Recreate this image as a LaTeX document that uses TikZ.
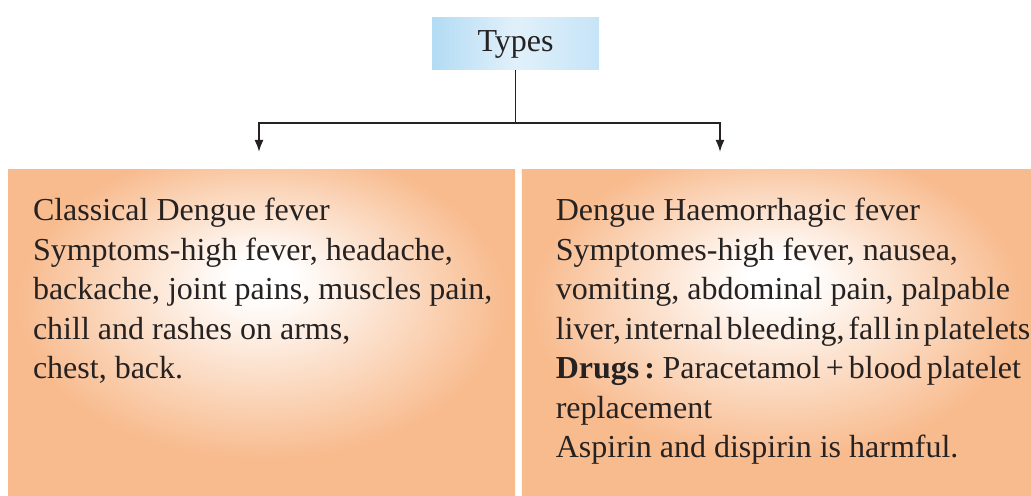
\documentclass[tikz,border=0pt]{standalone}
\usepackage{fontspec}
\setmainfont{Liberation Serif}
\usepackage{xcolor}
\usetikzlibrary{arrows.meta, positioning, calc}
\definecolor{typeblue}{HTML}{B3DBF4}
\definecolor{panelorange}{HTML}{F8BB8E}
\definecolor{inkgray}{HTML}{262222}
\pgfdeclareradialshading{panelglow}{\pgfpoint{0bp}{9bp}}{%
  color(0bp)=(white); color(3bp)=(white); color(24bp)=(panelorange); color(50bp)=(panelorange)}

\begin{document}
\begin{tikzpicture}[
   >={Latex[length=6pt, width=4.5pt]}, font=\fontsize{16}{19.75}\selectfont,
   typesbox/.style = {rectangle, left color=typeblue, right color=typeblue!75, middle color=typeblue!40,
                      minimum width=83.5pt, minimum height=26pt, inner sep=0pt, text=inkgray},
   panel/.style = {rectangle, shading=panelglow, minimum height=163pt, inner sep=0pt},
   paneltext/.style = {align=left, inner sep=0pt, text=inkgray, anchor=north west},
   link/.style = {line width=0.9pt, draw=inkgray}]
  \useasboundingbox (0,0) rectangle (515.5pt,-248pt);

  \node[typesbox] (types) at (257.75pt,-22pt) {Types};
  \node[panel, minimum width=253.5pt] (classic) at (130.75pt,-166.5pt) {};
  \node[panel, minimum width=255pt, right=3pt of classic] (haemo) {};

  \node[paneltext] (classictxt) at ([xshift=12.5pt, yshift=-14pt]classic.north west)
       {Classical Dengue fever\\ Symptoms-high fever, headache,\\ backache, joint pains, muscles pain,\\
        chill and rashes on arms,\\ chest, back.};
  \node[paneltext] (haemotxt) at ([xshift=17pt, yshift=-14pt]haemo.north west)
       {Dengue Haemorrhagic fever\\ Symptomes-high fever, nausea,\\ vomiting, abdominal pain, palpable\\
        {\spaceskip=1.9pt liver, internal bleeding, fall in platelets}\\
        {\spaceskip=2.5pt \textbf{Drugs :} Paracetamol + blood platelet}\\
        replacement\\ Aspirin and dispirin is harmful.};

  % branch arrows stop short of the panels
  \coordinate (hub) at (257.75pt,-61.5pt);
  \coordinate (lefttip) at (129.5pt,-76pt);
  \coordinate (righttip) at (360pt,-76pt);
  \draw[link] (types) -- (hub);
  \draw[link, ->] (hub) -| (lefttip);
  \draw[link, ->] (hub) -| (righttip);
\end{tikzpicture}
\end{document}
